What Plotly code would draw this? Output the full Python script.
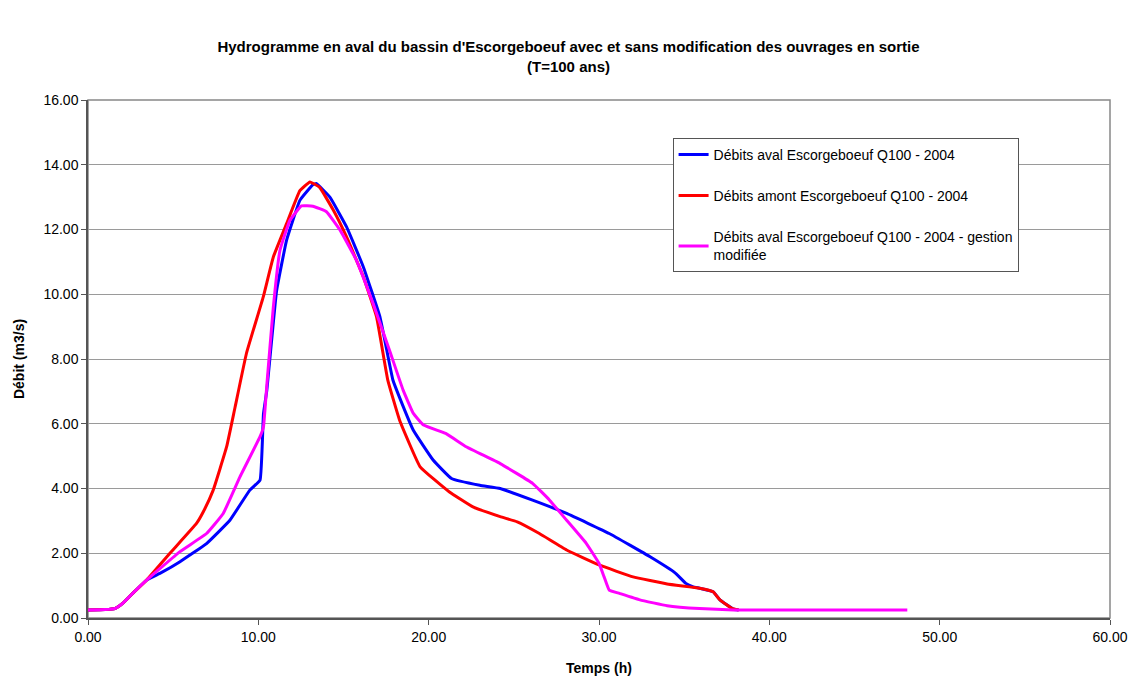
import plotly.graph_objects as go

# Temps (h) and débits (m3/s)
t_blue = [0, 1.0, 1.6, 2.05, 2.6, 3.44, 4.3, 5.4, 6.96, 8.33, 9.5, 10.1, 10.3, 10.5, 11.07, 11.66, 12.44, 13.2, 13.4,
          14.2, 15.18, 16.16, 17.14, 17.9, 18.3, 19.1, 20.26, 21.34, 23.0, 24.2, 26.1, 28.1, 30.6, 33.0, 34.5,
          35.1, 35.5, 35.9, 36.7, 37.1, 37.9, 38.2]
q_blue = [0.25, 0.26, 0.3, 0.46, 0.75, 1.17, 1.4, 1.74, 2.3, 3.02, 3.95, 4.26, 6.3, 7.04, 10.1, 11.67, 12.9, 13.38, 13.42,
          13.0, 12.08, 10.85, 9.3, 7.35, 6.8, 5.8, 4.88, 4.31, 4.1, 4.0, 3.64, 3.23, 2.61, 1.89, 1.38,
          1.07, 0.97, 0.92, 0.81, 0.56, 0.27, 0.25]

t_red = [0, 1.0, 1.6, 2.05, 2.6, 3.44, 4.81, 6.37, 6.77, 7.35, 8.14, 8.63, 9.3, 10.29, 10.88, 11.66, 12.44, 13.03,
         13.6, 14.4, 15.18, 16.16, 16.94, 17.6, 18.3, 19.5, 21.2, 22.6, 24.2, 25.2, 26.5, 28.1, 30.0, 32.0, 34.0,
         35.9, 36.7, 37.1, 37.8, 38.2]
q_red = [0.25, 0.26, 0.3, 0.46, 0.75, 1.17, 2.0, 2.92, 3.28, 3.95, 5.29, 6.5, 8.17, 9.92, 11.15, 12.18, 13.2, 13.47,
         13.3, 12.6, 11.77, 10.54, 9.3, 7.35, 6.1, 4.67, 3.9, 3.43, 3.13, 2.97, 2.61, 2.1, 1.64, 1.27, 1.05,
         0.92, 0.81, 0.56, 0.3, 0.25]

t_mag = [0, 1.0, 1.6, 2.05, 2.6, 3.44, 5.4, 6.96, 7.94, 8.92, 10.1, 10.3, 10.5, 10.88, 11.27, 11.85, 12.53, 13.2,
         14.0, 14.8, 15.76, 16.74, 17.7, 18.5, 19.1, 19.7, 21.0, 22.2, 24.2, 26.1, 27.1, 28.1, 29.26, 30.0, 30.3,
         30.6, 31.2, 32.4, 34.0, 35.9, 37.9, 48.1]
q_mag = [0.25, 0.26, 0.3, 0.46, 0.75, 1.17, 2.05, 2.61, 3.23, 4.36, 5.6, 5.9, 7.2, 9.6, 11.36, 12.28, 12.73, 12.72,
         12.55, 11.98, 11.05, 9.71, 8.27, 7.04, 6.32, 5.96, 5.7, 5.29, 4.77, 4.16, 3.64, 3.02, 2.3, 1.69, 1.27,
         0.86, 0.76, 0.56, 0.38, 0.29, 0.25, 0.25]

names = ["Débits aval Escorgeboeuf Q100 - 2004",
         "Débits amont Escorgeboeuf Q100 - 2004",
         "Débits aval Escorgeboeuf Q100 - 2004 - gestion<br>modifiée"]
colors = ["#0000FF", "#FF0000", "#FF00FF"]

x_ticks = [0, 10, 20, 30, 40, 50, 60]
y_ticks = [0, 2, 4, 6, 8, 10, 12, 14, 16]

fig = go.Figure()
for i, (tx, qy) in enumerate([(t_blue, q_blue), (t_red, q_red), (t_mag, q_mag)]):
    fig.add_trace(go.Scatter(x=tx, y=qy, mode="lines", name=names[i], legendgroup=str(i),
                             line=dict(color=colors[i], width=3, shape="spline", smoothing=0.3)))

font = "Liberation Sans, Arial, sans-serif"
fig.update_layout(
    width=1137, height=679,
    margin=dict(l=88, r=27, t=100, b=61),
    paper_bgcolor="white", plot_bgcolor="white",
    font=dict(family=font, size=14, color="black"),
    title=dict(text="<b>Hydrogramme en aval du bassin d'Escorgeboeuf avec et sans modification des ouvrages en sortie<br>(T=100 ans)</b>",
               x=0.5, xanchor="center", y=1 - 52 / 679, yanchor="top", font=dict(size=15, family=font)),
    xaxis=dict(range=[0, 60], tickvals=x_ticks, ticktext=[f"{v:.2f}" for v in x_ticks],
               showgrid=False, zeroline=False, showline=True, linecolor="#555", linewidth=1.5,
               ticks="outside", ticklen=5, tickcolor="#555", automargin=False,
               title=dict(text="<b>Temps (h)</b>", font=dict(size=14), standoff=20)),
    yaxis=dict(range=[0, 16], tickvals=y_ticks, ticktext=[f"{v:.2f}" for v in y_ticks],
               showgrid=True, gridcolor="#9a9a9a", gridwidth=1, zeroline=False, automargin=False,
               showline=True, linecolor="#555", linewidth=1.5, ticks="outside", ticklen=5, tickcolor="#555",
               title=dict(text="<b>Débit (m3/s)</b>", font=dict(size=14), standoff=16)),
    legend=dict(x=0.572, y=0.927, xanchor="left", yanchor="top", bgcolor="white",
                bordercolor="#555", borderwidth=1, tracegroupgap=20,
                font=dict(size=14, family=font)),
    shapes=[dict(type="rect", xref="paper", yref="paper", x0=0, y0=0, x1=1, y1=1,
                 line=dict(color="#888", width=1.5), layer="below")],
)

fig.write_html("out.html")
